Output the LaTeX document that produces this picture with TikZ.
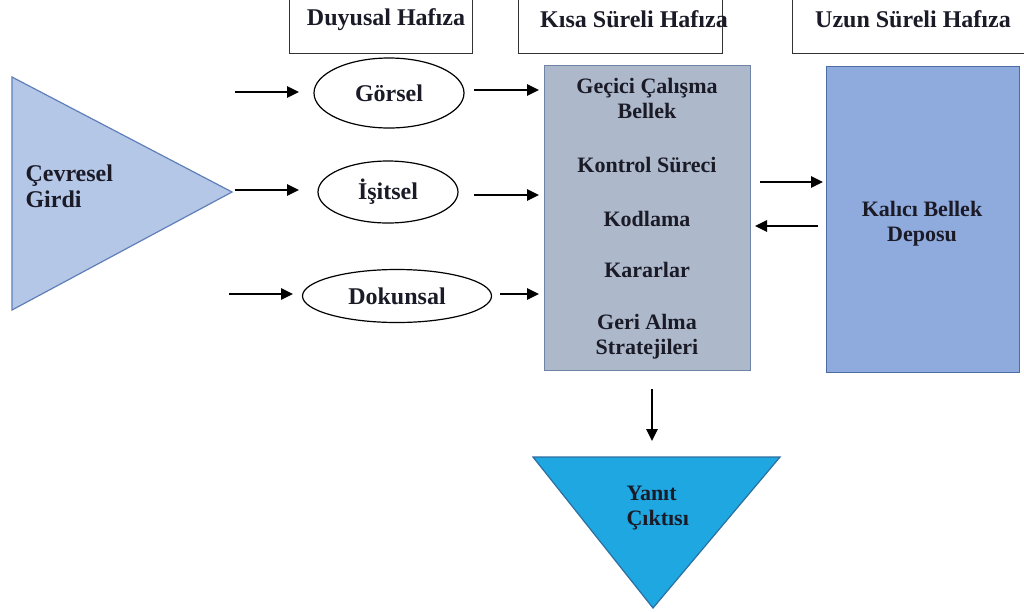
\documentclass[tikz,border=0pt]{standalone}
\usepackage{fontspec}
\setmainfont{Liberation Serif}
\usetikzlibrary{shapes.geometric,arrows.meta}
\definecolor{txt}{HTML}{1B1B28}
\definecolor{trifill}{HTML}{B4C7E7}
\definecolor{triline}{HTML}{5F7FB8}
\definecolor{stmfill}{HTML}{ADB9CA}
\definecolor{stmline}{HTML}{6F85A6}
\definecolor{ltmfill}{HTML}{8FAADC}
\definecolor{ltmline}{HTML}{4C6CA6}
\definecolor{outfill}{HTML}{1EA7E1}
\definecolor{outline}{HTML}{2C6FA0}
\tikzset{
  x=1pt, y=-1pt,
  lbl/.style={font=\fontsize{22}{25}\selectfont\bfseries, text=txt},
  biglbl/.style={font=\fontsize{24}{26}\selectfont\bfseries, text=txt},
  hdr/.style={draw=black!80, line width=1.3pt, minimum height=56pt, inner sep=0pt, anchor=north west},
  hdrtxt/.style={font=\fontsize{24}{26}\selectfont\bfseries, text=txt},
  oval/.style={draw=black, line width=1.2pt, ellipse, inner sep=0pt, fill=white, font=\fontsize{24}{26}\selectfont\bfseries, text=txt},
  arr/.style={-{Triangle[length=12pt,width=11pt]}, line width=2.6pt, black},
}
\begin{document}
\begin{tikzpicture}
\useasboundingbox (0,0) rectangle (1024,611);
% headers
\node[hdr, minimum width=183pt] (h1) at (289,-3) {};
\node[hdrtxt] (h1t) at (386,20) {Duyusal Hafıza};
\node[hdr, minimum width=204pt] (h2) at (518,-3) {};
\node[hdrtxt] (h2t) at (634,19) {Kısa Süreli Hafıza};
\node[hdr, minimum width=240pt] (h3) at (792,-3) {};
\node[hdrtxt] (h3t) at (913,19) {Uzun Süreli Hafıza};
% input triangle
\draw[fill=trifill, draw=triline, line width=1.2pt] (12,77) -- (232,192) -- (12,310) -- cycle;
\node[biglbl, align=left, anchor=west] (cg) at (22,186) {Çevresel\\Girdi};
% ovals
\node[oval, minimum width=150pt, minimum height=70pt] (gor) at (389,93) {Görsel};
\node[oval, minimum width=140pt, minimum height=62pt] (isi) at (388,192) {İşitsel};
\node[oval, minimum width=189pt, minimum height=53pt] (dok) at (397,296) {Dokunsal};
% STM box
\node[draw=stmline, fill=stmfill, line width=1.3pt, minimum width=206pt, minimum height=305pt, anchor=north west, inner sep=0pt] (stm) at (544,65) {};
\node[lbl, align=center] (s1) at (647,98) {Geçici Çalışma\\Bellek};
\node[lbl] (s2) at (647,165) {Kontrol Süreci};
\node[lbl] (s3) at (647,219) {Kodlama};
\node[lbl] (s4) at (647,270) {Kararlar};
\node[lbl, align=center] (s5) at (647,337) {Geri Alma\\Stratejileri};
% LTM box
\node[draw=ltmline, fill=ltmfill, line width=1.3pt, minimum width=193pt, minimum height=306pt, anchor=north west, inner sep=0pt] (ltm) at (826,66) {};
\node[lbl, align=center] (l1) at (922,224) {Kalıcı Bellek\\Deposu};
% output triangle
\draw[fill=outfill, draw=outline, line width=1.2pt] (533,457) -- (780,457) -- (653,608) -- cycle;
\node[lbl, align=left, anchor=west] (yc) at (623,508) {Yanıt\\Çıktısı};
% arrow endpoints
\coordinate (a1s) at (235,92); \coordinate (a1e) at (299,92);
\coordinate (a2s) at (235,190); \coordinate (a2e) at (299,190);
\coordinate (a3s) at (229,294); \coordinate (a3e) at (293,294);
\coordinate (b1s) at (474,90); \coordinate (b1e) at (539,90);
\coordinate (b2s) at (474,195); \coordinate (b2e) at (539,195);
\coordinate (b3s) at (500,294); \coordinate (b3e) at (539,294);
\coordinate (c1s) at (760,182); \coordinate (c1e) at (823,182);
\coordinate (c2s) at (818,226); \coordinate (c2e) at (755,226);
\coordinate (ds) at (652,389); \coordinate (de) at (652,441);
\draw[arr] (a1s) -- (a1e);
\draw[arr] (a2s) -- (a2e);
\draw[arr] (a3s) -- (a3e);
\draw[arr] (b1s) -- (b1e);
\draw[arr] (b2s) -- (b2e);
\draw[arr] (b3s) -- (b3e);
\draw[arr] (c1s) -- (c1e);
\draw[arr] (c2s) -- (c2e);
\draw[arr] (ds) -- (de);
\end{tikzpicture}
\end{document}
